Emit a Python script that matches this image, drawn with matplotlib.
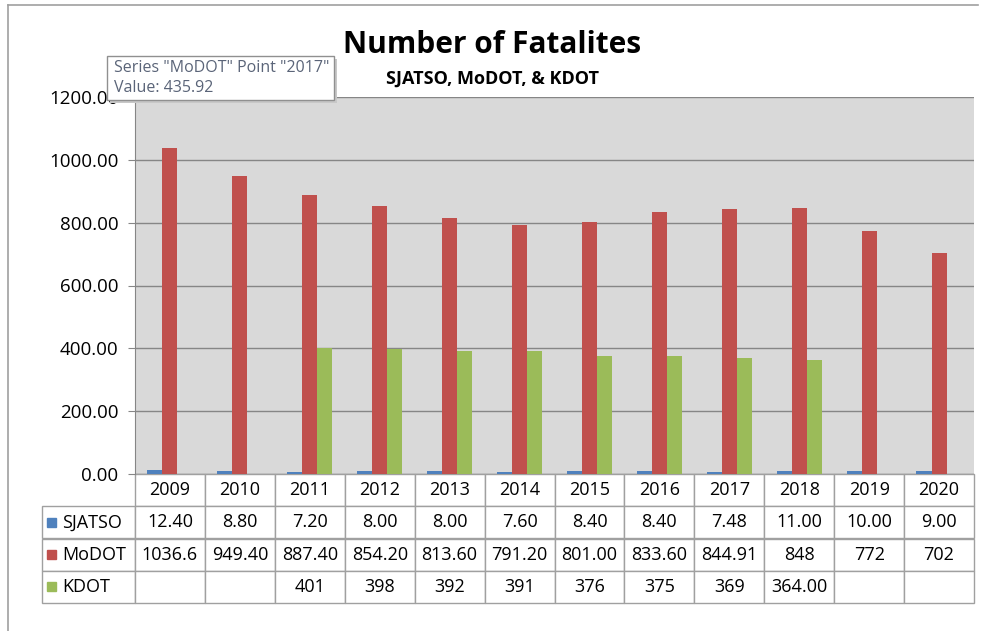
import numpy as np
import matplotlib.pyplot as plt
from matplotlib.patches import Rectangle

plt.rcParams['font.family'] = ['Open Sans', 'DejaVu Sans']

years = ['2009', '2010', '2011', '2012', '2013', '2014', '2015', '2016', '2017', '2018', '2019', '2020']
sjatso = [12.40, 8.80, 7.20, 8.00, 8.00, 7.60, 8.40, 8.40, 7.48, 11.00, 10.00, 9.00]
modot = [1036.6, 949.40, 887.40, 854.20, 813.60, 791.20, 801.00, 833.60, 844.91, 848, 772, 702]
kdot = [np.nan, np.nan, 401, 398, 392, 391, 376, 375, 369, 364.00, np.nan, np.nan]

# text shown in the data table (as it appears in the sheet)
sjatso_txt = ['12.40', '8.80', '7.20', '8.00', '8.00', '7.60', '8.40', '8.40', '7.48', '11.00', '10.00', '9.00']
modot_txt = ['1036.6', '949.40', '887.40', '854.20', '813.60', '791.20', '801.00', '833.60', '844.91', '848', '772', '702']
kdot_txt = ['', '', '401', '398', '392', '391', '376', '375', '369', '364.00', '', '']

names = ['SJATSO', 'MoDOT', 'KDOT']
colors = ['#4f81bd', '#c0504d', '#9bbb59']

fig = plt.figure(figsize=(9.84, 6.31), dpi=100)
ax = fig.add_axes([135 / 984, 1 - 474 / 631, 839 / 984, 377 / 631])
ax.set_facecolor('#d9d9d9')

x = np.arange(len(years))
w = 0.215
for i, (vals, c) in enumerate(zip([sjatso, modot, kdot], colors)):
    ax.bar(x + (i - 1) * w, vals, width=w, color=c, zorder=3)

ax.set_xlim(-0.5, len(years) - 0.5)
ax.set_ylim(0, 1200)
ax.set_yticks(np.arange(0, 1201, 200))
ax.set_yticklabels(['%.2f' % v for v in np.arange(0, 1201, 200)], fontsize=13.5)
ax.set_xticks([])
ax.grid(axis='y', color='#868686', linewidth=1, zorder=1)
for s in ['top', 'right', 'bottom']:
    ax.spines[s].set_visible(False)
ax.spines['left'].set_color('#868686')
ax.tick_params(axis='y', length=5, color='#868686', pad=7)

# data table under the chart: first column holds the series names
label_w = 93 / 839
rows = [[''] + years]
for n, t in zip(names, [sjatso_txt, modot_txt, kdot_txt]):
    rows.append([n] + t)
tbl_h = 129 / 377
tbl = ax.table(cellText=rows, cellLoc='center',
               colWidths=[label_w] + [1 / 12] * 12,
               bbox=[-label_w, -tbl_h, 1 + label_w, tbl_h])
tbl.auto_set_font_size(False)
tbl.set_fontsize(13)
for (r, c), cell in tbl.get_celld().items():
    cell.set_edgecolor('#a0a0a0')
    cell.set_linewidth(1)
    if c == 0:
        cell.get_text().set_horizontalalignment('left')
        cell.PAD = 20 / 93
        if r == 0:
            cell.visible_edges = ''

rh = tbl_h / 4
for i, c in enumerate(colors):
    yc = -rh * (i + 1.5)
    ax.add_patch(Rectangle((-88 / 839, yc - 4.5 / 377), 9 / 839, 9 / 377,
                           transform=ax.transAxes, color=c, clip_on=False))

fig.text(0.5, 1 - 45 / 631, 'Number of Fatalites', ha='center', va='center',
         fontsize=21.5, fontweight='bold')
fig.text(0.5, 1 - 79 / 631, 'SJATSO, MoDOT, & KDOT', ha='center', va='center',
         fontsize=13, fontweight='bold')

# chart area border (left and top edges visible)
fig.add_artist(plt.Line2D([8 / 984, 8 / 984], [0, 1 - 5 / 631], color='#a0a0a0', lw=1.2))
fig.add_artist(plt.Line2D([8 / 984, 978 / 984], [1 - 5 / 631, 1 - 5 / 631], color='#a0a0a0', lw=1.2))

# hover tooltip
bx, by, bw, bh = 107 / 984, 1 - 100 / 631, 227 / 984, 44 / 631
fig.add_artist(Rectangle((bx + 3 / 984, by - 3 / 631), bw, bh, transform=fig.transFigure,
                         facecolor='#c8c8c8', edgecolor='none', zorder=9))
fig.add_artist(Rectangle((bx, by), bw, bh, transform=fig.transFigure,
                         facecolor='white', edgecolor='#909090', lw=1, zorder=10))
fig.text(bx + 7 / 984, 1 - 68 / 631, 'Series "MoDOT" Point "2017"', va='center',
         fontsize=11.5, color='#5a6478', zorder=11)
fig.text(bx + 7 / 984, 1 - 88 / 631, 'Value: 435.92', va='center',
         fontsize=11.5, color='#5a6478', zorder=11)

fig.savefig('out.png', dpi=100)
